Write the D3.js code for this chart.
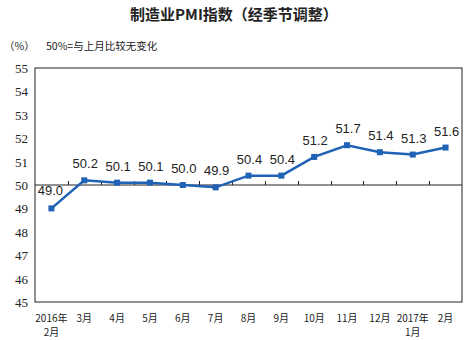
<!DOCTYPE html>
<html><head><meta charset="utf-8">
<script src="https://cdn.jsdelivr.net/npm/d3@7"></script>
<style>body{margin:0;background:#fff}svg{display:block}</style>
</head><body>
<svg id="c" width="469" height="340"></svg>
<script>
// Monthly manufacturing PMI, seasonally adjusted
const months = ["2016年|2月","3月","4月","5月","6月","7月","8月","9月","10月","11月","12月","2017年|1月","2月"];
const pmi = [49.0,50.2,50.1,50.1,50.0,49.9,50.4,50.4,51.2,51.7,51.4,51.3,51.6];
const yTicks = [45,46,47,48,49,50,51,52,53,54,55];

const svg = d3.select("#c");
const m = {left:35, right:462, top:68, bottom:302};
const blue = "#1f62b6";
const font = "Arial, 'Liberation Sans', 'Noto Sans CJK SC', sans-serif";

const x = d3.scaleBand().domain(months).range([m.left, m.right]);
const y = d3.scaleLinear().domain([45,55]).range([m.bottom, m.top]);

svg.append("text").attr("x",234).attr("y",20).attr("text-anchor","middle")
  .attr("font-family","'Noto Sans CJK SC', sans-serif").attr("font-size",15).attr("font-weight","bold").attr("fill","#222")
  .text("制造业PMI指数（经季节调整）");
svg.append("text").attr("x",4).attr("y",50).attr("font-family","'Noto Sans CJK SC', sans-serif").attr("font-size",10.5).attr("fill","#222").text("（%）");
svg.append("text").attr("x",46).attr("y",50).attr("font-family","'Noto Sans CJK SC', sans-serif").attr("font-size",10.5).attr("fill","#222").text("50%=与上月比较无变化");

// frame
svg.append("rect").attr("x",m.left).attr("y",m.top).attr("width",m.right-m.left).attr("height",m.bottom-m.top)
  .attr("fill","none").attr("stroke","#222").attr("stroke-width",1);

// y axis labels
svg.append("g").selectAll("text").data(yTicks).join("text")
  .attr("x",28).attr("y",d=>y(d)+5).attr("text-anchor","end")
  .attr("font-family","'Liberation Serif','Times New Roman',serif").attr("font-size",13).attr("fill","#222")
  .text(d=>d);

// 50 reference line with ticks at category boundaries
const axis50 = d3.axisTop(x).tickSize(0).tickFormat("");
svg.append("line").attr("x1",m.left).attr("x2",m.right).attr("y1",y(50)).attr("y2",y(50)).attr("stroke","#222").attr("stroke-width",1);
svg.append("g").selectAll("line").data(months.slice(1)).join("line")
  .attr("x1",d=>Math.round(x(d))+0.5).attr("x2",d=>Math.round(x(d))+0.5)
  .attr("y1",y(50)).attr("y2",y(50)-4).attr("stroke","#222").attr("stroke-width",1);

// x labels
const xl = svg.append("g").selectAll("text").data(months).join("text")
  .attr("text-anchor","middle").attr("font-family","'Noto Sans CJK SC', sans-serif").attr("font-size",10).attr("fill","#222");
xl.each(function(d){
  const parts = d.split("|");
  const cx = x(d)+x.bandwidth()/2;
  parts.forEach((p,i)=>d3.select(this).append("tspan").attr("x",cx).attr("y",322+i*14).text(p));
});

// line
const cx = d=>x(d)+x.bandwidth()/2;
const line = d3.line().x((d,i)=>cx(months[i])).y(d=>y(d));
svg.append("path").datum(pmi).attr("d",line).attr("fill","none").attr("stroke",blue).attr("stroke-width",2.5);
svg.append("g").selectAll("rect").data(pmi).join("rect")
  .attr("x",(d,i)=>cx(months[i])-3).attr("y",d=>y(d)-3).attr("width",6).attr("height",6).attr("fill",blue);

// value labels
svg.append("g").selectAll("text").data(pmi).join("text")
  .attr("x",(d,i)=>i===0?cx(months[i])-1:cx(months[i])+1)
  .attr("y",(d,i)=>i===0?y(d)-13:y(d)-12)
  .attr("text-anchor","middle").attr("font-family",font).attr("font-size",13).attr("fill","#222")
  .text(d=>d.toFixed(1));
</script>
</body></html>
